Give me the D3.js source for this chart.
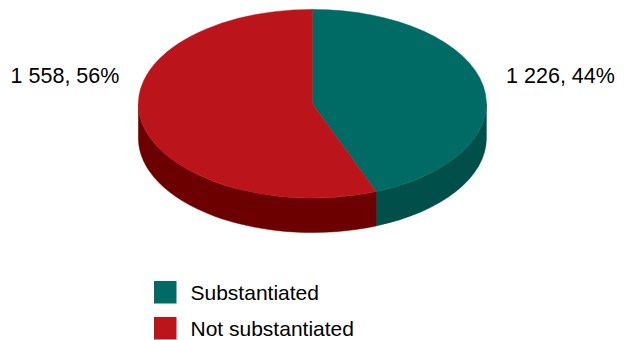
<!DOCTYPE html>
<html><head><meta charset="utf-8">
<script src="https://cdn.jsdelivr.net/npm/d3@7"></script>
<style>html,body{margin:0;padding:0;background:#fff;}svg{display:block;}</style>
</head><body>
<svg id="c" width="624" height="340"></svg>
<script>
const categories = ["Substantiated", "Not substantiated"];
const values = [1226, 1558];
const labels = ["1 226, 44%", "1 558, 56%"];
const topColors = ["#006B64", "#BB151B"];
const sideColors = ["#004F4A", "#6C0000"];

const svg = d3.select("#c");
const cx = 312.4, cy = 103.7, rx = 174, ry = 94.3, depth = 34.5;
const font = "'Liberation Sans', Arial, sans-serif";

const arcs = d3.pie().sort(null).startAngle(0).endAngle(2 * Math.PI)(values);
const px = (a) => cx + rx * Math.sin(a);
const py = (a, off = 0) => cy - ry * Math.cos(a) + off;

function sidePath(a0, a1) {
  const s = Math.max(a0, Math.PI / 2), e = Math.min(a1, 3 * Math.PI / 2);
  if (e <= s) return null;
  const large = (e - s) > Math.PI ? 1 : 0;
  return `M${px(s)},${py(s)} A${rx},${ry} 0 ${large} 1 ${px(e)},${py(e)} L${px(e)},${py(e, depth)} A${rx},${ry} 0 ${large} 0 ${px(s)},${py(s, depth)} Z`;
}
function topPath(a0, a1) {
  const large = (a1 - a0) > Math.PI ? 1 : 0;
  return `M${cx},${cy} L${px(a0)},${py(a0)} A${rx},${ry} 0 ${large} 1 ${px(a1)},${py(a1)} Z`;
}

const g = svg.append("g");
arcs.forEach((d, i) => {
  const p = sidePath(d.startAngle, d.endAngle);
  if (p) g.append("path").attr("d", p).attr("fill", sideColors[i]).attr("stroke", sideColors[i]).attr("stroke-width", 0.5);
});
arcs.forEach((d, i) => {
  g.append("path").attr("d", topPath(d.startAngle, d.endAngle)).attr("fill", topColors[i]).attr("stroke", topColors[i]).attr("stroke-width", 0.5);
});

// labels
const labelPos = [{x: 560.5, y: 83, anchor: "middle"}, {x: 65, y: 83, anchor: "middle"}];
labels.forEach((t, i) => {
  svg.append("text").attr("x", labelPos[i].x).attr("y", labelPos[i].y)
    .attr("text-anchor", labelPos[i].anchor).attr("font-family", font)
    .attr("font-size", 21.5).attr("fill", "#000").text(t);
});

// legend
const lg = svg.append("g").attr("transform", "translate(154,281)");
categories.forEach((c, i) => {
  const row = lg.append("g").attr("transform", `translate(0,${i * 36})`);
  row.append("rect").attr("width", 22.5).attr("height", 22.5).attr("fill", topColors[i]);
  row.append("text").attr("x", 36.5).attr("y", 18.5).attr("font-family", font)
    .attr("font-size", 21).attr("fill", "#000").text(c);
});
</script>
</body></html>
